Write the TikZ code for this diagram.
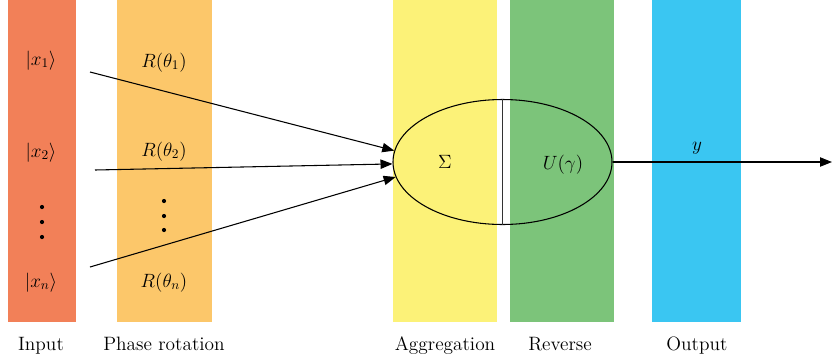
\documentclass[tikz,border=0pt]{standalone}
\usepackage{amsmath,amssymb}
\usepackage{tikz}
\usetikzlibrary{arrows.meta,positioning,calc,shapes.geometric}

\definecolor{inputcol}{RGB}{242,128,88}
\definecolor{phasecol}{RGB}{252,199,106}
\definecolor{aggcol}{RGB}{252,242,120}
\definecolor{revcol}{RGB}{124,196,122}
\definecolor{outcol}{RGB}{58,198,242}

\tikzset{
	bar/.style = {rectangle, draw=none, minimum height=322*0.75pt, inner sep=0pt, anchor=north},
	lbl/.style = {font=\fontsize{14.5}{17}\selectfont, inner sep=0pt, anchor=base},
	conn/.style = {line width=0.8pt, -{Triangle[length=9pt,width=7pt]}}
}

\begin{document}
\begin{tikzpicture}[x=0.75pt, y=-0.75pt]

	\useasboundingbox (0,0) rectangle (832,362);

	% columns
	\node[bar, fill=inputcol, minimum width=68*0.75pt] (b_in) at (42,0) {};
	\node[bar, fill=phasecol, minimum width=95*0.75pt] (b_ph) at (164.5,0) {};
	\node[bar, fill=aggcol, minimum width=104*0.75pt] (b_agg) at (445,0) {};
	\node[bar, fill=revcol, minimum width=104*0.75pt] (b_rev) at (562,0) {};
	\node[bar, fill=outcol, minimum width=89*0.75pt] (b_out) at (696.5,0) {};

	% column titles
	\node[lbl] (t_in) at (41,350) {Input};
	\node[lbl] (t_ph) at (164,350) {Phase rotation};
	\node[lbl] (t_agg) at (445,350) {Aggregation};
	\node[lbl] (t_rev) at (560,350) {Reverse};
	\node[lbl] (t_out) at (697,350) {Output};

	% inputs
	\node[lbl] (x_one) at (41,65) {$|x_1\rangle$};
	\node[lbl] (x_two) at (41,157) {$|x_2\rangle$};
	\node[lbl] (x_n) at (41,287) {$|x_n\rangle$};
	\foreach \yy in {207,222,237}
		\fill (42,\yy) circle (2.1);

	% rotations
	\node[lbl] (r_one) at (164,67) {$R(\theta_1)$};
	\node[lbl] (r_two) at (164,156) {$R(\theta_2)$};
	\node[lbl] (r_n) at (164,287) {$R(\theta_n)$};
	\foreach \yy in {201,216,230}
		\fill (164,\yy) circle (2.1);

	% neuron
	\node[ellipse, draw, line width=0.8pt, minimum width=219*0.75pt, minimum height=125*0.75pt, inner sep=0pt] (neuron) at (502.5,162) {};
	\draw[line width=1.3pt, black!80] (neuron.north) -- (neuron.south);
	\node[lbl] (sum) at (445,168) {$\Sigma$};
	\node[lbl] (uni) at (563,169) {$U(\gamma)$};

	% connectors
	\coordinate (s_one) at (90,72);
	\coordinate (s_two) at (95,170);
	\coordinate (s_n) at (90,267);
	\coordinate (y_end) at (832,162);

	\draw[conn] (s_one) -- (neuron.174.7);
	\draw[conn] (s_two) -- (neuron.181);
	\draw[conn] (s_n) -- (neuron.188.6);
	\draw[conn] (neuron.east) -- (y_end);
	\node[lbl] (y_lbl) at (697,150) {$y$};

\end{tikzpicture}
\end{document}
